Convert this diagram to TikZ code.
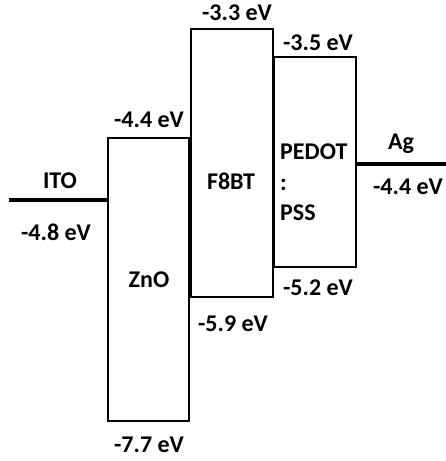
\documentclass[tikz,border=0pt]{standalone}
\usepackage{fontspec}
\setmainfont{Carlito}
\usepackage{tikz}
\usetikzlibrary{positioning, calc}

\tikzset{
  lvl/.style={font=\fontsize{24}{27}\selectfont\bfseries, inner sep=0pt},
  band/.style={line width=2.2pt},
  metal/.style={line width=4pt}
}

\begin{document}
\begin{tikzpicture}[x=1pt, y=-1pt]
        \useasboundingbox (0,0) rectangle (446,461);
        % ITO electrode
        \coordinate (itoL) at (9,200);
        \coordinate (itoR) at (108,200);
        \draw[metal] (itoL) -- (itoR);
        \node[lvl] (ito) at (60,181) {ITO};
        \node[lvl] (itoE) at (56,232) {-4.8 eV};
        % ZnO
        \draw[band] (108,138) rectangle (189,421);
        \node[lvl] (zno) at (149,280) {ZnO};
        \node[lvl] (znoT) at (149,120) {-4.4 eV};
        \node[lvl] (znoB) at (149,445) {-7.7 eV};
        % F8BT
        \draw[band] (191,29) rectangle (273,297);
        \node[lvl] (f8bt) at (231,181) {F8BT};
        \node[lvl] (f8btT) at (237,13) {-3.3 eV};
        \node[lvl] (f8btB) at (233,324) {-5.9 eV};
        % PEDOT:PSS
        \draw[band] (274,57) rectangle (356,267);
        \node[lvl, anchor=west] (pedot) at (280,152) {PEDOT};
        \node[lvl, anchor=west] (colon) at (280,185) {:};
        \node[lvl, anchor=west] (pss) at (280,213) {PSS};
        \node[lvl] (pedotT) at (318,43) {-3.5 eV};
        \node[lvl] (pedotB) at (318,288) {-5.2 eV};
        % Ag electrode
        \coordinate (agL) at (356,164);
        \coordinate (agR) at (446,164);
        \draw[metal] (agL) -- (agR);
        \node[lvl] (ag) at (401,144) {Ag};
        \node[lvl] (agE) at (408,187) {-4.4 eV};
\end{tikzpicture}
\end{document}
